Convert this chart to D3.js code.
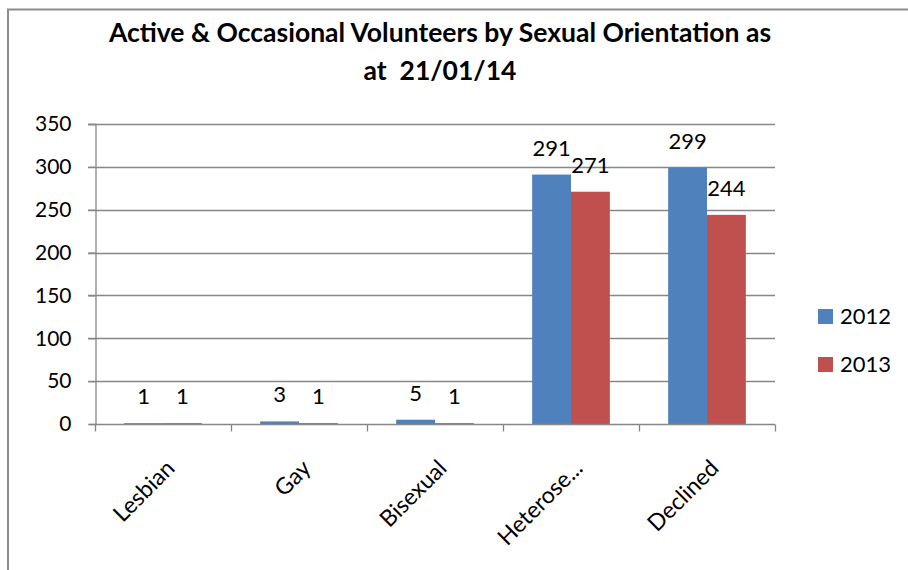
<!DOCTYPE html>
<html>
<head>
<meta charset="utf-8">
<script src="https://cdn.jsdelivr.net/npm/d3@7"></script>
<style>
  html, body { margin: 0; padding: 0; background: #fff; }
  svg { display: block; }
  text { font-family: Lato, "Open Sans", sans-serif; fill: #000; }
</style>
</head>
<body>
<svg id="chart" width="908" height="570"></svg>
<script>
const categories = ["Lesbian", "Gay", "Bisexual", "Heterose...", "Declined"];
const seriesNames = ["2012", "2013"];
const values2012 = [1, 3, 5, 291, 299];
const values2013 = [1, 1, 1, 271, 244];
const yTicks = [0, 50, 100, 150, 200, 250, 300, 350];
const colors = ["#4F81BD", "#C0504D"];
const titleLines = ["Active & Occasional Volunteers by Sexual Orientation as", "at  21/01/14"];

const series = [values2012, values2013];
const svg = d3.select("#chart");

// outer chart border (partial, as in reference)
svg.append("path")
  .attr("d", "M8,570 V9.5 H908")
  .attr("fill", "none")
  .attr("stroke", "#8c8c8c")
  .attr("stroke-width", 2);

const plot = { left: 95, right: 775, top: 124, bottom: 424 };

const x = d3.scaleBand().domain(categories).range([plot.left, plot.right]).paddingInner(0).paddingOuter(0);
const xInner = d3.scaleBand().domain(seriesNames).range([0, x.bandwidth()]).paddingInner(0).paddingOuter(0.75);
const y = d3.scaleLinear().domain([0, 350]).range([plot.bottom, plot.top]);

// gridlines
svg.append("g")
  .selectAll("line")
  .data(yTicks.filter(d => d > 0))
  .join("line")
  .attr("x1", plot.left - 7)
  .attr("x2", plot.right)
  .attr("y1", d => Math.round(y(d)) + 0.5)
  .attr("y2", d => Math.round(y(d)) + 0.5)
  .attr("stroke", "#878787")
  .attr("stroke-width", 1.3);

// y axis
const yAxis = svg.append("g")
  .attr("transform", `translate(${plot.left + 0.5},0)`)
  .call(d3.axisLeft(y).tickValues(yTicks).tickSize(7).tickPadding(17));
yAxis.select(".domain").attr("stroke", "#878787").attr("stroke-width", 1.3);
yAxis.selectAll(".tick line").attr("stroke", "#878787").attr("stroke-width", 1.3);
yAxis.selectAll(".tick text")
  .style("font-family", "Lato, sans-serif")
  .style("font-size", "21px")
  .attr("fill", "#000");

// bars
const groups = svg.append("g").selectAll("g")
  .data(categories)
  .join("g")
  .attr("transform", d => `translate(${x(d)},0)`);

groups.selectAll("rect")
  .data((d, i) => series.map((s, j) => ({ name: seriesNames[j], value: s[i], color: colors[j] })))
  .join("rect")
  .attr("x", d => xInner(d.name))
  .attr("width", xInner.bandwidth())
  .attr("y", d => y(d.value))
  .attr("height", d => y(0) - y(d.value))
  .attr("fill", d => d.color);

// data labels
groups.selectAll("text.lbl")
  .data((d, i) => series.map((s, j) => ({ name: seriesNames[j], value: s[i] })))
  .join("text")
  .attr("class", "lbl")
  .attr("x", d => xInner(d.name) + xInner.bandwidth() / 2)
  .attr("y", d => y(d.value) - 19)
  .attr("text-anchor", "middle")
  .style("font-size", "22px")
  .text(d => d.value);

// x axis
const xAxis = svg.append("g")
  .attr("transform", `translate(0,${plot.bottom + 0.5})`);
xAxis.append("line")
  .attr("x1", plot.left).attr("x2", plot.right)
  .attr("stroke", "#878787").attr("stroke-width", 1.3);
const boundaries = categories.map(c => x(c)).concat([plot.right]);
xAxis.selectAll("line.tk")
  .data(boundaries)
  .join("line")
  .attr("class", "tk")
  .attr("x1", d => Math.round(d) + 0.5).attr("x2", d => Math.round(d) + 0.5)
  .attr("y1", 0).attr("y2", 7)
  .attr("stroke", "#878787").attr("stroke-width", 1.3);

xAxis.selectAll("text")
  .data(categories)
  .join("text")
  .attr("transform", d => `translate(${x(d) + x.bandwidth() / 2 + 1},${33}) rotate(-45)`)
  .attr("text-anchor", "end")
  .attr("dy", "0.75em")
  .style("font-size", "23px")
  .text(d => d);

// title
svg.append("g").selectAll("text")
  .data(titleLines)
  .join("text")
  .attr("x", 440)
  .attr("y", (d, i) => 42 + i * 38)
  .attr("text-anchor", "middle")
  .attr("xml:space", "preserve")
  .style("white-space", "pre")
  .style("font-size", "26.5px")
  .style("font-weight", "bold")
  .text(d => d);

// legend
const legend = svg.append("g").selectAll("g")
  .data(seriesNames)
  .join("g")
  .attr("transform", (d, i) => `translate(818,${309 + i * 48})`);
legend.append("rect")
  .attr("width", 15).attr("height", 15)
  .attr("fill", (d, i) => colors[i]);
legend.append("text")
  .attr("x", 22).attr("y", 7.5)
  .attr("dy", "0.36em")
  .style("font-size", "22px")
  .text(d => d);
</script>
</body>
</html>
